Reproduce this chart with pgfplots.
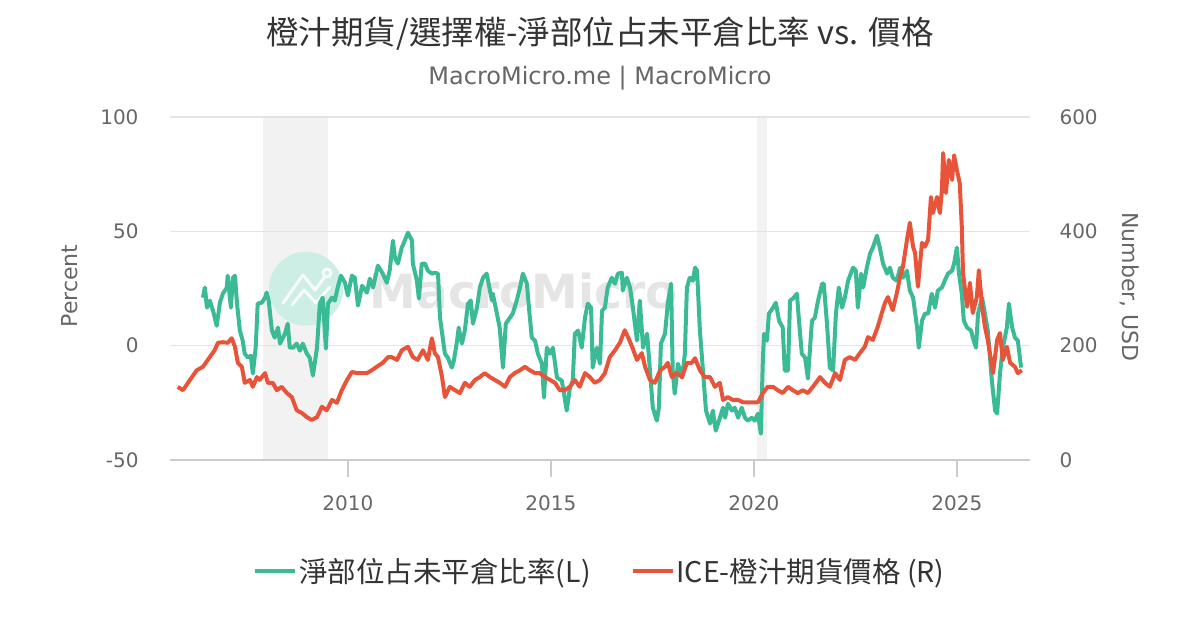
\documentclass[border=0pt]{standalone}
\usepackage{fontspec}
\setmainfont{DejaVu Sans}
\newfontfamily\cjk{Noto Sans CJK TC}
\usepackage{pgfplots}
\usepackage{pgfplotstable}
\pgfplotsset{compat=1.18}
\definecolor{cgreen}{RGB}{58,187,150}
\definecolor{cred}{RGB}{232,84,58}
\definecolor{tgrey}{RGB}{102,102,102}
\definecolor{tdark}{RGB}{51,51,51}
\definecolor{gridc}{RGB}{228,228,228}
\definecolor{axc}{RGB}{204,204,204}
\definecolor{bandc}{RGB}{242,242,242}
\definecolor{wmcircle}{RGB}{204,238,228}
\definecolor{wmtext}{RGB}{229,229,229}

\pgfplotstableread{
x y
2006.43 21.0
2006.48 25.4
2006.53 16.6
2006.60 19.7
2006.68 15.3
2006.77 8.7
2006.85 18.8
2006.92 22.7
2007.02 25.4
2007.04 30.6
2007.12 16.6
2007.17 29.7
2007.22 30.6
2007.27 18.4
2007.34 6.6
2007.41 2.2
2007.46 -3.5
2007.54 -5.2
2007.61 -4.4
2007.66 -12.2
2007.73 -0.9
2007.78 18.4
2007.88 18.8
2007.96 21.0
2008.00 23.2
2008.05 19.7
2008.13 6.6
2008.20 3.5
2008.28 7.9
2008.33 0.9
2008.45 5.2
2008.52 9.6
2008.57 -0.9
2008.65 -0.9
2008.74 0.9
2008.82 -2.2
2008.89 0.9
2008.99 -3.5
2009.06 -5.2
2009.14 -13.1
2009.24 -0.9
2009.31 18.4
2009.38 21.0
2009.46 -1.3
2009.51 18.4
2009.61 21.0
2009.68 19.7
2009.75 25.4
2009.83 30.6
2009.93 27.5
2010.00 21.9
2010.10 30.6
2010.17 29.7
2010.25 17.5
2010.35 26.2
2010.47 23.2
2010.54 29.3
2010.62 25.4
2010.74 35.0
2010.86 31.5
2010.96 27.5
2011.03 32.8
2011.11 45.9
2011.16 38.5
2011.23 35.9
2011.33 42.9
2011.40 45.9
2011.48 49.4
2011.58 45.9
2011.60 35.9
2011.70 28.4
2011.75 20.6
2011.82 35.9
2011.90 35.9
2011.97 32.8
2012.07 31.5
2012.14 31.9
2012.22 31.5
2012.27 12.2
2012.39 -3.5
2012.46 -5.2
2012.56 -9.6
2012.61 -6.6
2012.69 2.2
2012.73 7.9
2012.81 0.9
2012.88 6.6
2012.96 18.4
2013.03 19.7
2013.08 9.6
2013.18 16.6
2013.25 25.4
2013.33 29.7
2013.42 31.5
2013.50 24.1
2013.55 19.7
2013.57 22.7
2013.67 14.0
2013.74 7.9
2013.82 -9.6
2013.89 9.6
2013.99 12.2
2014.06 14.0
2014.16 19.7
2014.24 25.4
2014.31 31.5
2014.41 27.1
2014.46 16.6
2014.53 3.5
2014.61 2.2
2014.68 -3.5
2014.78 -7.9
2014.83 -22.7
2014.90 -0.9
2014.98 -3.5
2015.05 -0.9
2015.15 -14.0
2015.27 -15.3
2015.39 -28.4
2015.47 -18.4
2015.54 -15.3
2015.59 5.2
2015.67 6.6
2015.76 -0.9
2015.84 12.2
2015.91 18.4
2015.99 16.6
2016.03 -9.6
2016.13 -0.9
2016.21 -7.9
2016.26 15.3
2016.33 16.6
2016.40 25.4
2016.50 29.7
2016.58 27.1
2016.65 31.5
2016.75 31.9
2016.77 24.1
2016.87 29.7
2016.95 25.4
2017.02 16.6
2017.12 2.2
2017.19 19.7
2017.27 -0.9
2017.37 5.2
2017.44 -10.9
2017.51 -27.1
2017.61 -32.8
2017.66 -27.1
2017.71 0.9
2017.81 5.2
2017.88 18.4
2017.96 27.1
2018.00 -10.9
2018.05 -21.0
2018.13 -7.9
2018.23 -14.0
2018.30 -3.5
2018.35 25.4
2018.42 29.7
2018.50 28.4
2018.55 34.1
2018.60 32.8
2018.67 6.6
2018.74 -9.6
2018.82 -28.4
2018.92 -34.1
2018.99 -28.4
2019.06 -37.2
2019.14 -32.8
2019.24 -27.1
2019.29 -31.5
2019.36 -25.4
2019.46 -28.4
2019.53 -27.1
2019.61 -31.5
2019.70 -27.1
2019.78 -31.5
2019.85 -32.8
2019.95 -31.5
2020.02 -32.8
2020.10 -29.7
2020.17 -38.5
2020.22 -6.6
2020.25 5.2
2020.32 2.2
2020.37 14.0
2020.47 16.6
2020.54 18.8
2020.62 10.9
2020.71 7.9
2020.76 -10.9
2020.84 -10.9
2020.89 19.7
2020.96 20.6
2021.06 22.7
2021.11 10.9
2021.18 -3.5
2021.26 -5.2
2021.33 -14.4
2021.43 10.9
2021.50 12.2
2021.58 19.7
2021.68 27.1
2021.72 27.1
2021.80 9.6
2021.87 -9.6
2021.95 -10.9
2022.02 14.0
2022.09 25.4
2022.17 16.6
2022.24 21.0
2022.32 28.4
2022.44 34.1
2022.51 32.8
2022.56 16.6
2022.64 31.5
2022.69 25.4
2022.78 34.1
2022.86 40.2
2022.93 42.9
2023.03 48.1
2023.10 42.9
2023.18 35.9
2023.28 31.5
2023.35 34.1
2023.42 29.7
2023.52 28.4
2023.60 34.1
2023.67 29.7
2023.77 32.8
2023.84 24.1
2023.92 21.0
2024.02 7.9
2024.06 -0.9
2024.14 10.9
2024.21 14.0
2024.29 14.0
2024.38 22.7
2024.46 16.6
2024.53 24.1
2024.63 25.4
2024.70 28.4
2024.78 31.5
2024.88 32.8
2024.93 35.9
2025.00 42.9
2025.05 31.5
2025.12 22.7
2025.17 10.9
2025.25 7.9
2025.35 6.6
2025.39 3.5
2025.47 -0.9
2025.52 14.0
2025.62 21.0
2025.69 14.0
2025.76 6.6
2025.86 -15.3
2025.94 -28.4
2025.99 -29.7
2026.06 -12.2
2026.13 -0.9
2026.23 7.9
2026.28 18.4
2026.36 7.9
2026.43 3.5
2026.50 2.2
2026.58 -9.6
}\greendata

\pgfplotstableread{
x y
2005.81 128
2005.94 122
2006.11 140
2006.28 157
2006.43 163
2006.60 180
2006.72 192
2006.80 205
2006.92 206
2007.04 205
2007.14 213
2007.22 198
2007.29 170
2007.39 163
2007.46 135
2007.59 140
2007.66 128
2007.76 145
2007.83 140
2007.96 152
2008.03 135
2008.15 135
2008.25 122
2008.37 128
2008.50 117
2008.62 110
2008.74 87
2008.87 82
2008.99 75
2009.11 70
2009.24 75
2009.36 93
2009.48 87
2009.61 105
2009.73 100
2009.85 122
2009.98 140
2010.10 154
2010.22 152
2010.34 152
2010.47 152
2010.59 157
2010.71 163
2010.86 170
2010.99 180
2011.08 180
2011.21 175
2011.33 192
2011.48 198
2011.60 180
2011.72 175
2011.85 192
2011.97 175
2012.07 213
2012.14 187
2012.22 180
2012.32 145
2012.39 110
2012.51 128
2012.64 122
2012.76 117
2012.88 135
2013.00 128
2013.13 140
2013.25 145
2013.37 152
2013.50 145
2013.62 140
2013.74 135
2013.87 128
2013.99 145
2014.11 152
2014.24 157
2014.36 163
2014.48 157
2014.61 152
2014.73 152
2014.85 145
2014.98 140
2015.10 135
2015.22 122
2015.34 122
2015.47 128
2015.59 140
2015.71 128
2015.84 152
2015.96 145
2016.08 135
2016.21 140
2016.33 152
2016.45 180
2016.58 192
2016.70 205
2016.82 227
2016.90 215
2017.00 198
2017.12 175
2017.24 187
2017.32 163
2017.44 140
2017.56 135
2017.69 157
2017.81 163
2017.88 170
2017.98 145
2018.10 152
2018.23 145
2018.35 170
2018.47 170
2018.55 178
2018.67 157
2018.79 145
2018.92 145
2019.04 128
2019.16 135
2019.24 105
2019.36 110
2019.48 105
2019.61 105
2019.73 101
2019.85 101
2019.98 101
2020.10 101
2020.22 117
2020.34 128
2020.47 128
2020.59 122
2020.71 117
2020.84 128
2020.96 122
2021.08 117
2021.21 122
2021.33 117
2021.45 128
2021.63 145
2021.75 135
2021.87 128
2022.00 152
2022.12 140
2022.24 175
2022.36 180
2022.49 175
2022.61 187
2022.73 198
2022.81 215
2022.93 210
2023.05 233
2023.15 257
2023.23 275
2023.30 285
2023.42 262
2023.52 292
2023.60 320
2023.67 338
2023.77 385
2023.84 415
2023.92 373
2023.97 362
2024.04 303
2024.14 380
2024.21 373
2024.29 385
2024.36 460
2024.41 432
2024.51 460
2024.58 432
2024.63 472
2024.66 537
2024.73 467
2024.80 525
2024.88 490
2024.93 533
2025.00 507
2025.07 484
2025.12 408
2025.15 327
2025.25 268
2025.32 310
2025.39 257
2025.49 285
2025.54 332
2025.62 268
2025.69 233
2025.76 210
2025.89 152
2025.99 210
2026.06 222
2026.13 175
2026.23 198
2026.31 170
2026.43 163
2026.50 152
2026.60 157
}\reddata

\pgfplotsset{
  /pgf/number format/1000 sep={},
  /pgf/number format/assume math mode=true,
  common/.style={
    at={(170bp,170bp)}, anchor=south west,
    scale only axis, width=860bp, height=343bp,
    xmin=2005.62, xmax=2026.80,
    ticklabel style={font=\fontsize{20bp}{22bp}\selectfont, text=tgrey},
  },
}

\begin{document}
\begin{tikzpicture}[x=1bp,y=1bp]
\useasboundingbox (0,0) rectangle (1200,630);

% background axis: recession bands and watermark
\begin{axis}[common, ymin=-50, ymax=100, hide axis, clip=false]
\fill[bandc] (axis cs:2007.92,-50) rectangle (axis cs:2009.50,100);
\fill[bandc] (axis cs:2020.08,-50) rectangle (axis cs:2020.33,100);
\fill[wmcircle] (axis cs:2008.97,24.9) circle[radius=37bp];
\node[anchor=base west, inner sep=0, text=wmtext, font=\bfseries\fontsize{47bp}{50bp}\selectfont]
  at (axis cs:2010.54,16.2) {MacroMicro};
\end{axis}
% watermark logo strokes
\begin{scope}[draw=white, line width=3bp, opacity=0.85, line cap=round, line join=round]
\draw (283,327) -- (303,355) -- (315,340) -- (324,352);
\draw (327,357) circle[radius=4bp];
\draw (292,325) -- (304,340) -- (316,327) -- (330,343);
\end{scope}

\begin{axis}[common,
  ymin=-50, ymax=100, ytick={-50,0,50,100},
  axis x line*=bottom, axis y line*=left,
  y axis line style={draw=none},
  x axis line style={draw=axc, line width=1.5bp, -},
  ytick style={draw=none},
  xtick={2010,2015,2020,2025},
  xtick align=outside,
  xtick style={draw=axc, line width=1.5bp},
  major tick length=17bp,
  ymajorgrids, grid style={draw=gridc, line width=1.5bp},
  yticklabel style={xshift=-28bp},
  xticklabel style={yshift=-15bp},
  legend columns=2,
  legend style={at={(0.5,-0.3236)}, anchor=center, draw=none, fill=none,
    font=\cjk\fontsize{28.5bp}{30bp}\selectfont, text=tdark,
    /tikz/every even column/.append style={column sep=38bp}},
  legend image code/.code={\draw[#1] (0bp,0bp) -- (30bp,0bp); \path (0bp,0bp) -- (40bp,0bp);},
]
\addplot[cgreen, line width=4bp, line join=round] table[x=x,y=y] {\greendata};
\addlegendentry{淨部位占未平倉比率(L)}
\addlegendimage{cred, line width=4bp}
\addlegendentry{ICE-橙汁期貨價格 (R)}
\end{axis}

\begin{axis}[common,
  ymin=0, ymax=600, ytick={0,200,400,600},
  axis x line=none, axis y line*=right,
  y axis line style={draw=none},
  ytick style={draw=none},
  yticklabel style={xshift=26bp},
]
\addplot[cred, line width=4bp, line join=round] table[x=x,y=y] {\reddata};
\end{axis}

\node[text=tdark, font=\cjk\fontsize{32.5bp}{35bp}\selectfont] at (600,596) {橙汁期貨/選擇權-淨部位占未平倉比率 vs. 價格};
\node[text=tgrey, font=\fontsize{24bp}{26bp}\selectfont] at (600,552) {MacroMicro.me | MacroMicro};
\node[text=tgrey, rotate=90, font=\fontsize{22bp}{24bp}\selectfont] at (70,344) {Percent};
\node[text=tgrey, rotate=-90, font=\fontsize{22bp}{24bp}\selectfont] at (1130,343) {Number, USD};
\end{tikzpicture}
\end{document}
